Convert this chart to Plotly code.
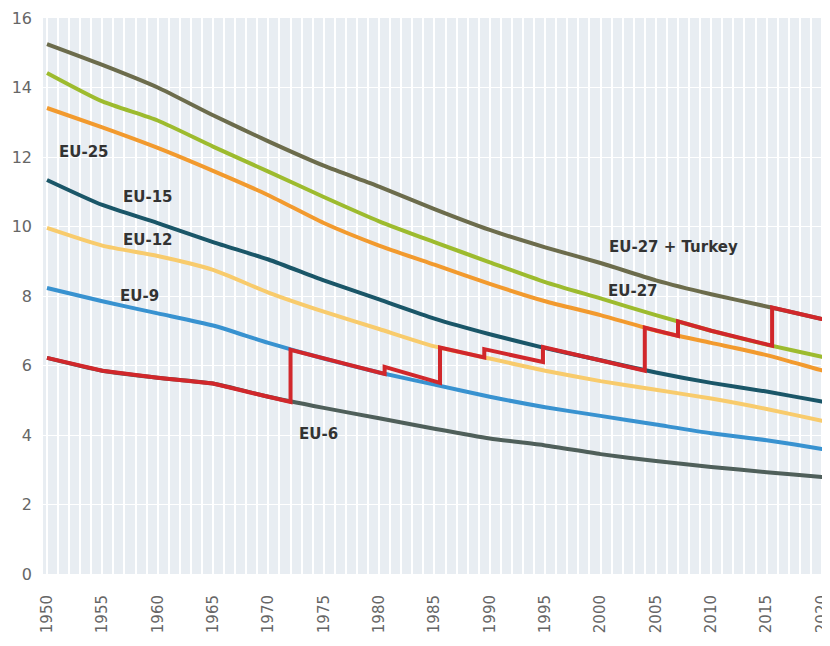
import plotly.graph_objects as go

years = [1950, 1955, 1960, 1965, 1970, 1975, 1980, 1985, 1990, 1995, 2000, 2005, 2010, 2015, 2020, 2021]

eu27_turkey = [15.25, 14.65, 14.0, 13.2, 12.45, 11.75, 11.15, 10.5, 9.9, 9.4, 8.95, 8.45, 8.05, 7.7, 7.34, 7.27]
eu27 = [14.42, 13.6, 13.05, 12.3, 11.58, 10.85, 10.15, 9.55, 8.97, 8.4, 7.93, 7.45, 7.0, 6.6, 6.25, 6.18]
eu25 = [13.41, 12.85, 12.26, 11.6, 10.9, 10.1, 9.45, 8.9, 8.35, 7.85, 7.45, 7.0, 6.65, 6.3, 5.86, 5.78]
eu15 = [11.34, 10.62, 10.1, 9.55, 9.05, 8.45, 7.9, 7.35, 6.9, 6.5, 6.15, 5.8, 5.5, 5.25, 4.96, 4.9]
eu12 = [9.96, 9.45, 9.15, 8.75, 8.1, 7.55, 7.05, 6.55, 6.2, 5.85, 5.55, 5.3, 5.05, 4.75, 4.41, 4.35]
eu9 = [8.23, 7.85, 7.5, 7.15, 6.65, 6.2, 5.8, 5.45, 5.1, 4.8, 4.55, 4.3, 4.05, 3.85, 3.6, 3.55]
eu6 = [6.22, 5.85, 5.65, 5.48, 5.1, 4.78, 4.48, 4.18, 3.9, 3.7, 3.45, 3.25, 3.08, 2.93, 2.79, 2.75]

# actual EU membership (step line)
eu_actual_years = [1950, 1955, 1960, 1965, 1970, 1972, 1972, 1975, 1980.5, 1980.5, 1985.5, 1985.5,
                   1989.5, 1989.5, 1994.8, 1994.8, 2000, 2004, 2004, 2007, 2007, 2010, 2015.5,
                   2015.5, 2020, 2021]
eu_actual = [6.22, 5.85, 5.65, 5.48, 5.1, 4.95, 6.45, 6.2, 5.76, 5.96, 5.5, 6.52,
             6.23, 6.47, 6.1, 6.53, 6.15, 5.85, 7.09, 6.85, 7.27, 7.0, 6.57,
             7.67, 7.34, 7.27]

series = [
    ("EU-27 + Turkey", eu27_turkey, "#6c6c4c"),
    ("EU-27", eu27, "#9dbb2e"),
    ("EU-25", eu25, "#f29a2e"),
    ("EU-15", eu15, "#1a5668"),
    ("EU-12", eu12, "#f8cb6c"),
    ("EU-9", eu9, "#3892d0"),
    ("EU-6", eu6, "#4f5f5a"),
]

labels = ["EU-25", "EU-15", "EU-12", "EU-9", "EU-6", "EU-27 + Turkey", "EU-27"]
label_x = [1953.3, 1959.1, 1959.1, 1958.4, 1974.5, 2006.6, 2002.9]
label_y = [12.14, 10.85, 9.61, 8.0, 4.03, 9.41, 8.14]

fig = go.Figure()
for name, vals, col in series:
    fig.add_trace(go.Scatter(x=years, y=vals, mode="lines", name=name,
                             line=dict(color=col, width=4, shape="spline", smoothing=0.6),
                             hoverinfo="skip"))
fig.add_trace(go.Scatter(x=eu_actual_years, y=eu_actual, mode="lines", name="EU",
                         line=dict(color="#d1272b", width=4), hoverinfo="skip"))

for t, x, y in zip(labels, label_x, label_y):
    fig.add_annotation(x=x, y=y, text=t, showarrow=False,
                       font=dict(family="DejaVu Sans", size=15, color="#333333", weight="bold"))

fig.update_layout(
    width=822, height=638,
    margin=dict(l=35, r=0, t=10, b=72),
    paper_bgcolor="white",
    plot_bgcolor="#e8edf2",
    showlegend=False,
    font=dict(family="DejaVu Sans", size=15, color="#666666"),
)
fig.update_xaxes(range=[1949.64, 2020.73], tickmode="linear", tick0=1950, dtick=5,
                 tickangle=-90, showgrid=True, gridcolor="white", gridwidth=1.5,
                 minor=dict(dtick=1, showgrid=True, gridcolor="white", gridwidth=1.5),
                 zeroline=False, showline=False, ticks="", ticklabelstandoff=17,
                 ticklabeloverflow="allow",
                 tickfont=dict(size=15, color="#666666"))
fig.update_yaxes(range=[0, 16], tickmode="linear", tick0=0, dtick=2,
                 showgrid=True, gridcolor="white", gridwidth=1,
                 zeroline=False, showline=False, ticks="", ticklabelstandoff=10,
                 tickfont=dict(size=16, color="#666666"))

fig.write_html("out.html")
